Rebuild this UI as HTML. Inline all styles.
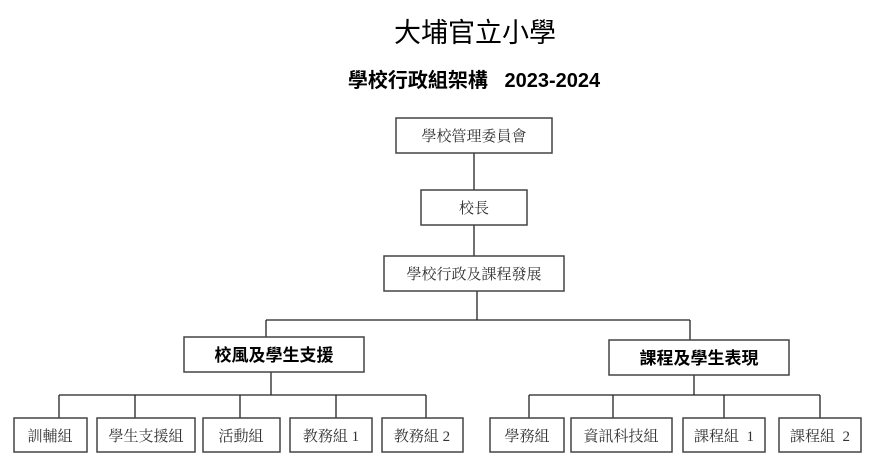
<!DOCTYPE html>
<html><head><meta charset="utf-8"><style>
html,body{margin:0;padding:0;background:#fff;}
svg{display:block;}
.b{fill:#fff;stroke:#444;stroke-width:1.5;}
.l{stroke:#222;stroke-width:1.3;fill:none;}
.t{font-family:"Liberation Serif","Noto Serif CJK TC","Noto Serif CJK SC",serif;font-size:15px;fill:#333;text-anchor:middle;}
.h{font-family:"Liberation Sans","Noto Sans CJK TC",sans-serif;font-size:17px;font-weight:bold;fill:#000;text-anchor:middle;}
</style></head><body>
<svg width="880" height="466" xmlns="http://www.w3.org/2000/svg">
<text x="475" y="42" style="font-family:'Liberation Sans','Noto Sans CJK TC',sans-serif;font-size:27px;text-anchor:middle">大埔官立小學</text>
<text x="474" y="87" style="font-family:'Liberation Sans','Noto Sans CJK TC',sans-serif;font-size:20px;font-weight:bold;text-anchor:middle">學校行政組架構&#160;&#160;&#160;2023-2024</text>
<path class="l" d="M474 153V191M474 225V256M477 291V320M266 320H690M266 320V337M690 320V340"/>
<path class="l" d="M271 372V395M59 395H426M59 395V418M135 395V418M240 395V418M336 395V418M426 395V418"/>
<path class="l" d="M694 375V395M529 395H820M529 395V418M613 395V418M724 395V418M820 395V418"/>
<rect class="b" x="396" y="118" width="156" height="35"/><text class="t" x="474" y="141">學校管理委員會</text>
<rect class="b" x="421" y="190" width="106" height="35"/><text class="t" x="474" y="213">校長</text>
<rect class="b" x="384" y="256" width="180" height="35"/><text class="t" x="474" y="279">學校行政及課程發展</text>
<rect class="b" x="184" y="337" width="180" height="35"/><text class="h" x="274" y="361">校風及學生支援</text>
<rect class="b" x="609" y="340" width="180" height="35"/><text class="h" x="699" y="364">課程及學生表現</text>
<rect class="b" x="14" y="418" width="73" height="34"/><text class="t" x="50" y="441">訓輔組</text>
<rect class="b" x="97" y="418" width="98" height="34"/><text class="t" x="146" y="441">學生支援組</text>
<rect class="b" x="203" y="418" width="77" height="34"/><text class="t" x="241" y="441">活動組</text>
<rect class="b" x="290" y="418" width="82" height="34"/><text class="t" x="331" y="441">教務組 1</text>
<rect class="b" x="382" y="418" width="81" height="34"/><text class="t" x="422" y="441">教務組 2</text>
<rect class="b" x="490" y="418" width="74" height="34"/><text class="t" x="527" y="441">學務組</text>
<rect class="b" x="571" y="418" width="101" height="34"/><text class="t" x="621" y="441">資訊科技組</text>
<rect class="b" x="683" y="418" width="82" height="34"/><text class="t" x="724" y="441">課程組&#160;&#160;1</text>
<rect class="b" x="779" y="418" width="82" height="34"/><text class="t" x="820" y="441">課程組&#160;&#160;2</text>
</svg>
</body></html>
